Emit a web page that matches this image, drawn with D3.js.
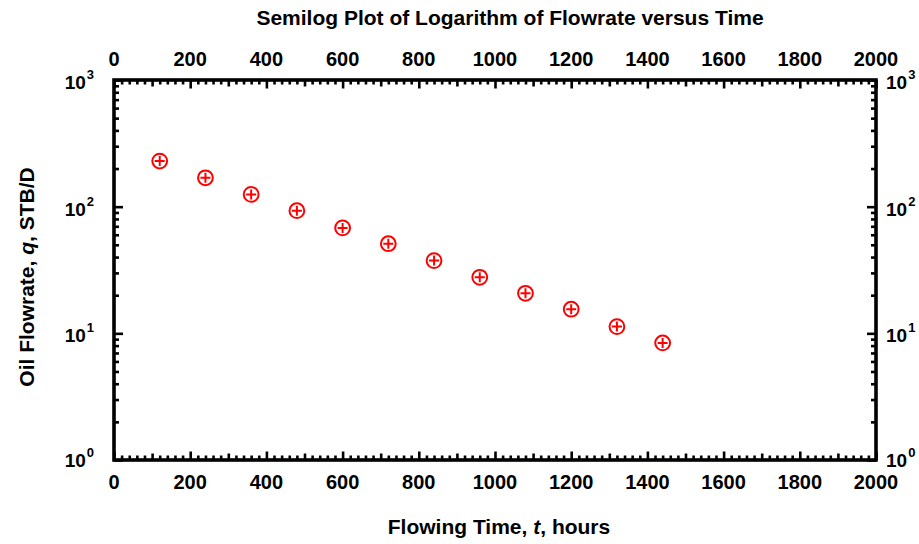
<!DOCTYPE html>
<html><head><meta charset="utf-8">
<script src="https://cdn.jsdelivr.net/npm/d3@7"></script>
<style>
body{margin:0;background:#fff;}
text{font-family:"Liberation Sans",Arial,sans-serif;font-weight:bold;fill:#000;}
</style></head>
<body>
<svg id="c" width="919" height="544"></svg>
<script>
// Data
const timeHours = [120,240,360,480,600,720,840,960,1080,1200,1320,1440];
const oilRate = [229,169,125,93,68,51,37.5,27.7,20.7,15.5,11.3,8.4];
const xTickLabels = [0,200,400,600,800,1000,1200,1400,1600,1800,2000];
const yDecadeExponents = [0,1,2,3];
const titleText = "Semilog Plot of Logarithm of Flowrate versus Time";

const svg = d3.select("#c");
const L=114, R=876, T=80, B=460;
const x = d3.scaleLinear().domain([0,2000]).range([L,R]);
const y = d3.scaleLog().domain([1,1000]).range([B,T]);

const xMinor = d3.range(0,2001,20).filter(v=>v%100!==0);
const xMid = d3.range(100,2000,200);
const xMajor = xTickLabels;
const yMinor = [];
[1,10,100].forEach(d=>{for(let k=2;k<=9;k++) yMinor.push(d*k);});
const yMajor = yDecadeExponents.map(e=>Math.pow(10,e));

function tickGroup(axisFn, scale, values, size, transform){
  const g = svg.append("g").attr("transform",transform)
    .call(axisFn(scale).tickValues(values).tickSize(size).tickSizeOuter(0).tickFormat(""));
  g.select(".domain").remove();
  g.selectAll("line").attr("stroke","#000").attr("stroke-width",2.6);
  return g;
}
[[xMinor,4.5],[xMid,6.5],[xMajor,8.5]].forEach(([v,s])=>{
  tickGroup(d3.axisBottom,x,v,-s,`translate(0,${B})`);
  tickGroup(d3.axisTop,x,v,-s,`translate(0,${T})`);
});
[[yMinor,5],[yMajor,9]].forEach(([v,s])=>{
  tickGroup(d3.axisLeft,y,v,-s,`translate(${L},0)`);
  tickGroup(d3.axisRight,y,v,-s,`translate(${R},0)`);
});

svg.append("rect").attr("x",L).attr("y",T).attr("width",R-L).attr("height",B-T)
  .attr("fill","none").attr("stroke","#000").attr("stroke-width",3.6);

svg.append("g").selectAll("text").data(xTickLabels).join("text")
  .attr("x",d=>x(d)).attr("y",B+29).attr("text-anchor","middle").attr("font-size",20).text(d=>d);
svg.append("g").selectAll("text").data(xTickLabels).join("text")
  .attr("x",d=>x(d)).attr("y",T-14).attr("text-anchor","middle").attr("font-size",20).text(d=>d);

function yLabel(e, side){
  const yy = y(Math.pow(10,e)) + (e===0?7:9);
  const t = svg.append("text").attr("y",yy).attr("font-size",19);
  if(side==="left"){ t.attr("x",L-20).attr("text-anchor","end"); }
  else { t.attr("x",R+10).attr("text-anchor","start"); }
  t.append("tspan").text("10");
  t.append("tspan").attr("font-size",13).attr("dy",-10).attr("dx",1).text(e);
}
yDecadeExponents.forEach(e=>{yLabel(e,"left");yLabel(e,"right");});

svg.append("text").attr("x",510).attr("y",25).attr("text-anchor","middle")
  .attr("font-size",21).text(titleText);

const xt = svg.append("text").attr("x",499).attr("y",534).attr("text-anchor","middle").attr("font-size",21);
xt.append("tspan").text("Flowing Time, ");
xt.append("tspan").attr("font-style","italic").text("t");
xt.append("tspan").text(", hours");

const yt = svg.append("text").attr("transform",`translate(34,${277}) rotate(-90)`).attr("text-anchor","middle").attr("font-size",21);
yt.append("tspan").text("Oil Flowrate, ");
yt.append("tspan").attr("font-style","italic").text("q");
yt.append("tspan").text(", STB/D");

const m = svg.append("g").selectAll("g").data(timeHours.map((t,i)=>[t,oilRate[i]])).join("g")
  .attr("transform",d=>`translate(${x(d[0])},${y(d[1])})`);
m.append("circle").attr("r",7.4).attr("fill","none").attr("stroke","#f00").attr("stroke-width",2);
m.append("path").attr("d","M-5,0H5M0,-5V5").attr("stroke","#f00").attr("stroke-width",2);
</script>
</body></html>
